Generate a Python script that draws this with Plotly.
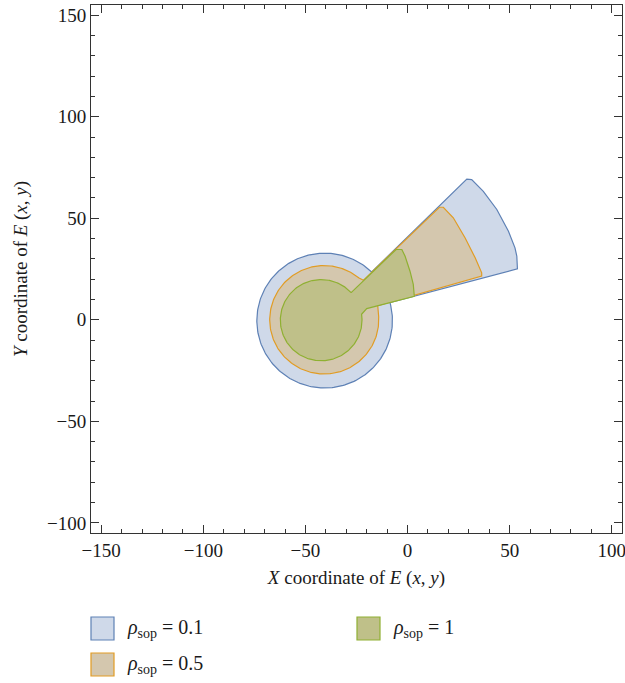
import numpy as np
import plotly.graph_objects as go

# ---- data ----
rho_labels = ["0.1", "0.5", "1"]
edge_colors = ["#5E81B5", "#E19C24", "#8FB032"]
fill_colors = ["#CFD9E9", "#D4C7AE", "#BFC089"]

# circular part of each region: centre, radius, arc start/end angle (degrees)
circle_cx = [-40.6, -40.8, -42.3]
circle_cy = [-0.4, 0.0, -0.2]
circle_r = [33.2, 26.7, 20.0]
arc_start_deg = [46.1, 50.3, 42.8]
arc_end_deg = [375.6, 373.7, 368.3]

# wedge part: lower inner junction -> outer edge -> tip (-> upper inner junction)
wedge_x_blue = [-8.6, 53.8, 53.5, 52.6, 49.4, 43.7, 37.1, 31.4, 29.0]
wedge_y_blue = [8.5, 25.1, 31.3, 35.4, 43.6, 54.3, 63.2, 69.0, 69.3]
wedge_x_orange = [-14.6, 36.3, 36.3, 33.1, 28.2, 22.4, 17.5, 15.6, -21.6]
wedge_y_orange = [6.9, 21.5, 23.1, 30.5, 40.3, 50.2, 55.4, 55.4, 19.5]
wedge_x_green = [-20.0, 3.3, 2.8, 1.2, -1.2, -2.8, -5.6]
wedge_y_green = [5.5, 11.6, 17.4, 23.9, 31.3, 34.6, 34.6]

wedges_x = [wedge_x_blue, wedge_x_orange, wedge_x_green]
wedges_y = [wedge_y_blue, wedge_y_orange, wedge_y_green]

x_range = [-155, 105]
y_range = [-105, 155]

FONT = "Liberation Serif, Times New Roman, serif"
AX = "#333333"
TXT = "#1a1a1a"

fig = go.Figure()

for i in range(3):
    th = np.radians(np.linspace(arc_start_deg[i], arc_end_deg[i], 240))
    ax_ = circle_cx[i] + circle_r[i] * np.cos(th)
    ay_ = circle_cy[i] + circle_r[i] * np.sin(th)
    xs = list(ax_) + list(wedges_x[i]) + [ax_[0]]
    ys = list(ay_) + list(wedges_y[i]) + [ay_[0]]
    fig.add_trace(go.Scatter(
        x=xs, y=ys, mode="lines", fill="toself",
        fillcolor=fill_colors[i],
        line=dict(color=edge_colors[i], width=1.2),
        name="ρsop = " + rho_labels[i],
        showlegend=False, hoverinfo="skip",
    ))

axis_common = dict(
    showgrid=False, zeroline=False, automargin=False,
    showline=True, linecolor=AX, linewidth=1, mirror="ticks",
    ticks="inside", ticklen=8, tickwidth=1, tickcolor=AX,
    dtick=50, tick0=0, ticklabeloverflow="allow",
    minor=dict(dtick=10, ticks="inside", ticklen=4, tickwidth=1, tickcolor=AX, showgrid=False),
    tickfont=dict(family=FONT, size=19, color=TXT),
)

fig.update_layout(
    width=625, height=683,
    margin=dict(l=91, r=3, t=5, b=150),
    plot_bgcolor="white", paper_bgcolor="white",
    showlegend=False,
    xaxis=dict(range=x_range, **axis_common,
               title=dict(text="<i>X</i> coordinate of <i>E</i> (<i>x</i>, <i>y</i>)",
                          font=dict(family=FONT, size=19, color=TXT), standoff=10)),
    yaxis=dict(range=y_range, **axis_common,
               title=dict(text="<i>Y</i> coordinate of <i>E</i> (<i>x</i>, <i>y</i>)",
                          font=dict(family=FONT, size=19, color=TXT), standoff=14)),
)

# ---- legend (square swatches, laid out like the reference) ----
plot_w, plot_h = 531.0, 528.0
def px_x(px):
    return (px - 91) / plot_w
def px_y(py):
    return (533 - py) / plot_h

legend_pos = [(91, 617), (91, 653), (357, 617)]  # top-left of each swatch (px)
for i, (lx, ly) in enumerate(legend_pos):
    fig.add_shape(type="rect", xref="paper", yref="paper",
                  x0=px_x(lx), x1=px_x(lx + 23), y0=px_y(ly + 23), y1=px_y(ly),
                  fillcolor=fill_colors[i], line=dict(color=edge_colors[i], width=1.2))
    fig.add_annotation(xref="paper", yref="paper", x=px_x(lx + 34), y=px_y(ly + 11.5),
                       xanchor="left", yanchor="middle", showarrow=False,
                       text="<i>ρ</i><sub>sop</sub> = " + rho_labels[i],
                       font=dict(family=FONT, size=20, color=TXT))

fig.write_html("out.html", config={"displayModeBar": False},
               post_script="document.body.style.margin='0';document.body.style.overflow='hidden';")
